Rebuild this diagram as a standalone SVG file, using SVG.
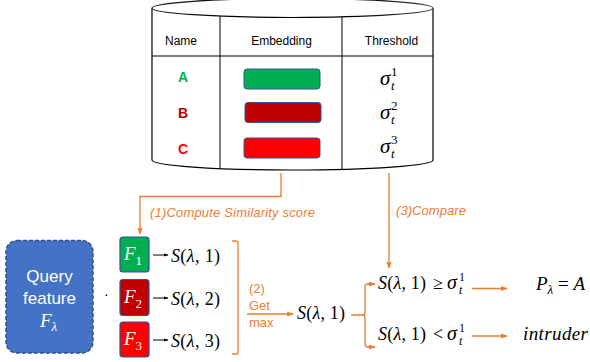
<svg xmlns="http://www.w3.org/2000/svg" width="590" height="362" viewBox="0 0 590 362">
<style>
.hdr{font-family:"Liberation Sans",Arial,sans-serif;font-size:12px;fill:#000;text-anchor:middle}
.nm{font-family:"Liberation Sans",Arial,sans-serif;font-size:14px;font-weight:bold;text-anchor:middle}
.math{font-family:"Liberation Serif","Times New Roman",serif;font-size:18px;fill:#000}
.it{font-style:italic}
.lbl{font-family:"Liberation Sans",Arial,sans-serif;font-size:13px;fill:#ED7D31}
.or{stroke:#ED7D31;stroke-width:1.3;fill:none}
.bk{stroke:#000;stroke-width:1;fill:none}
.emb{stroke:#2F5597;stroke-width:1}
.fb{stroke:#2F5597;stroke-width:1.2}
.ft{font-family:"Liberation Serif","Times New Roman",serif;font-size:19px;fill:#fff}
</style>
<defs>
<marker id="ao" viewBox="0 0 10 10" refX="9" refY="5" markerWidth="5" markerHeight="5" orient="auto"><path d="M0,1 L10,5 L0,9 z" fill="#ED7D31"/></marker>
<marker id="ab" viewBox="0 0 10 10" refX="9" refY="5" markerWidth="5" markerHeight="5" orient="auto"><path d="M0,1.5 L10,5 L0,8.5 z" fill="#000"/></marker>
<linearGradient id="rim" x1="0" x2="1" y1="0" y2="0"><stop offset="0" stop-color="#222"/><stop offset="0.3" stop-color="#000"/><stop offset="0.7" stop-color="#000"/><stop offset="1" stop-color="#444"/></linearGradient>
</defs>

<g id="database">
<path d="M152,8 L152,160 A140.5,10 0 0 0 433,160 L433,8" fill="#fff" stroke="#000" stroke-width="1.2"/>
<ellipse cx="292.5" cy="8" rx="140.5" ry="9.5" fill="#fff" stroke="url(#rim)" stroke-width="1.2"/>
<line x1="220" y1="16" x2="220" y2="168.6" class="bk"/>
<line x1="342" y1="16.5" x2="342" y2="169.6" class="bk"/>
<line x1="152" y1="56" x2="433" y2="56" class="bk"/>
<text class="hdr" x="181" y="45">Name</text>
<text class="hdr" x="281.5" y="45">Embedding</text>
<text class="hdr" x="391.5" y="45">Threshold</text>
<text class="nm" x="183" y="82" fill="#00B050">A</text>
<text class="nm" x="183" y="118" fill="#C00000">B</text>
<text class="nm" x="183" y="154" fill="#FF0000">C</text>
<rect class="emb" x="244" y="69" width="76" height="20" rx="3" fill="#00B050"/>
<rect class="emb" x="245" y="102.5" width="76" height="20" rx="3" fill="#C00000"/>
<rect class="emb" x="244" y="138" width="76" height="20" rx="3" fill="#FF0000"/>
<g class="math">
<text x="380" y="85" font-size="21" class="it">σ</text><text x="391" y="90" font-size="13" class="it">t</text><text x="391" y="76" font-size="13">1</text>
<text x="380" y="118.5" font-size="21" class="it">σ</text><text x="391" y="123.5" font-size="13" class="it">t</text><text x="391" y="109.5" font-size="13">2</text>
<text x="380" y="152.5" font-size="21" class="it">σ</text><text x="391" y="157.5" font-size="13" class="it">t</text><text x="391" y="143.5" font-size="13">3</text>
</g>
</g>

<g id="query">
<rect x="6" y="240.5" width="87" height="112.5" rx="11" fill="#4472C4" stroke="#2F528F" stroke-width="1.5" stroke-dasharray="4 2"/>
<text x="49.5" y="282" font-family="'Liberation Sans',Arial,sans-serif" font-size="17" fill="#fff" text-anchor="middle">Query</text>
<text x="49.5" y="304" font-family="'Liberation Sans',Arial,sans-serif" font-size="17" fill="#fff" text-anchor="middle">feature</text>
<text x="40" y="327" class="ft it">F<tspan font-size="13" dy="4">λ</tspan></text>
</g>
<text x="104" y="299" font-family="'Liberation Sans',Arial,sans-serif" font-size="14" fill="#000">·</text>

<g id="F1"><rect class="fb" x="120" y="237" width="29" height="35" rx="3" fill="#00B050"/><text x="124" y="260" class="ft"><tspan class="it">F</tspan><tspan font-size="13" dy="5">1</tspan></text></g>
<g id="F2"><rect class="fb" x="120" y="279.5" width="29" height="36" rx="3" fill="#C00000"/><text x="124" y="303" class="ft"><tspan class="it">F</tspan><tspan font-size="13" dy="5">2</tspan></text></g>
<g id="F3"><rect class="fb" x="120" y="322" width="29" height="35" rx="3" fill="#FF0000"/><text x="124" y="345" class="ft"><tspan class="it">F</tspan><tspan font-size="13" dy="5">3</tspan></text></g>

<g id="scores" class="math">
<text x="171" y="262" textLength="49"><tspan class="it">S</tspan>(<tspan class="it">λ</tspan>, 1)</text>
<text x="171" y="305" textLength="49"><tspan class="it">S</tspan>(<tspan class="it">λ</tspan>, 2)</text>
<text x="171" y="347" textLength="49"><tspan class="it">S</tspan>(<tspan class="it">λ</tspan>, 3)</text>
<text x="297" y="319" textLength="48"><tspan class="it">S</tspan>(<tspan class="it">λ</tspan>, 1)</text>
<text x="378" y="289" textLength="48"><tspan class="it">S</tspan>(<tspan class="it">λ</tspan>, 1)</text>
<text x="433" y="289">≥</text>
<text x="447" y="289" font-size="20" class="it">σ</text>
<text x="459" y="294" font-size="12" class="it">t</text><text x="459" y="281" font-size="12">1</text>
<text x="378" y="340" textLength="48"><tspan class="it">S</tspan>(<tspan class="it">λ</tspan>, 1)</text>
<text x="433" y="340">&lt;</text>
<text x="447" y="340" font-size="20" class="it">σ</text>
<text x="459" y="345" font-size="12" class="it">t</text><text x="459" y="332" font-size="12">1</text>
<text x="536" y="290" font-size="19"><tspan class="it">P</tspan><tspan class="it" font-size="13" dy="4">λ</tspan><tspan dy="-4"> = </tspan><tspan class="it">A</tspan></text>
<text x="523" y="340" class="it" font-size="19" textLength="65">intruder</text>
</g>

<g id="labels">
<text class="lbl" x="150" y="217" font-style="italic" textLength="165">(1)Compute Similarity score</text>
<text class="lbl" x="396" y="215" font-style="italic" textLength="70">(3)Compare</text>
<text class="lbl" x="249" y="293">(2)</text>
<text class="lbl" x="249" y="310">Get</text>
<text class="lbl" x="249" y="327">max</text>
</g>

<g id="connectors">
<path class="or" d="M281,173 L281,196.5 L140,196.5 L140,234" marker-end="url(#ao)"/>
<path class="or" d="M389,173 L389,268" marker-end="url(#ao)"/>
<path class="or" d="M232,241 L236,241 Q238,241 238,243 L238,352 Q238,354 236,354 L232,354"/>
<path class="or" d="M247,314 L293,314" marker-end="url(#ao)"/>
<path class="or" d="M351,315 L362,315 M374,284 L368,284 Q365,284 365,287 L365,312 Q365,315 362,315 Q365,315 365,318 L365,344 Q365,347 368,347 L374,347"/>
<path class="or" d="M368,284 L375,284" marker-end="url(#ao)"/>
<path class="or" d="M368,347 L375,347" marker-end="url(#ao)"/>
<path class="or" d="M472,288.5 L507,288.5" marker-end="url(#ao)"/>
<path class="or" d="M472,336 L507,336" marker-end="url(#ao)"/>
<path class="bk" d="M153,255 L168,255" marker-end="url(#ab)"/>
<path class="bk" d="M153,298 L168,298" marker-end="url(#ab)"/>
<path class="bk" d="M153,340 L168,340" marker-end="url(#ab)"/>
</g>
</svg>
